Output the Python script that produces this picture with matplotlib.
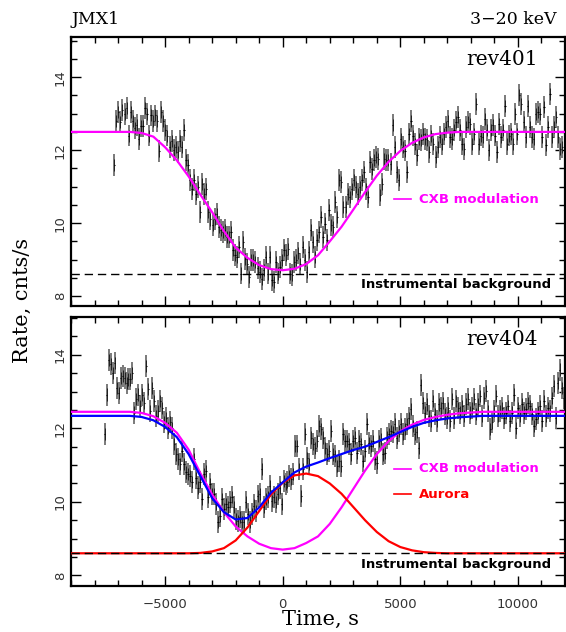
import numpy as np
import matplotlib
matplotlib.use('Agg')
import matplotlib.pyplot as plt
from matplotlib.ticker import MultipleLocator, FixedLocator

# ---------------- data ----------------
# rev401 light curve (time span and rates)
t401_first, t401_last = -7160, 11890
rate401 = [
    11.6, 12.8, 13.05, 12.78, 13.1, 13.0, 13.15, 12.4, 13.05, 12.8, 12.6, 12.7, 12.3, 12.65, 12.65,
    13.15, 13.0, 12.4, 12.95, 12.8, 12.95, 12.8, 11.98, 13.05, 12.8, 12.55, 12.4, 12.08, 12.25, 12.0,
    12.08, 11.95, 12.25, 12.08, 12.55, 11.72, 11.6, 11.17, 10.94, 11.17, 10.8, 11.0, 10.3, 11.08, 10.8,
    10.94, 10.3, 10.1, 9.95, 10.12, 10.26,
    9.9, 9.8, 9.75, 9.8, 9.62, 9.62, 9.75, 9.26, 9.12, 9.08, 9.35, 8.62, 9.49, 9.03, 8.89, 8.52, 8.98,
    8.98, 8.94, 8.76, 8.66, 8.48, 8.71, 9.08, 8.62, 9.08, 8.43, 8.39, 8.94, 8.62, 8.8, 8.98, 9.26, 9.12,
    9.3, 8.62, 8.57, 8.94, 8.98, 9.17, 8.89, 9.35, 8.98, 8.66, 9.21, 9.8, 9.49, 9.08, 9.53, 9.75, 10.17,
    9.62, 9.99, 9.53, 10.35,
    9.94, 9.9, 10.58, 10.17, 11.17, 11.12, 10.44, 10.44, 10.8, 10.71, 10.94, 11.17, 10.99, 10.8, 10.99,
    11.17, 11.4, 10.94, 10.71, 11.67, 11.49, 11.72, 11.81, 11.76, 10.76, 11.08, 11.76, 11.72, 11.72,
    11.63, 12.68, 12.08, 11.4, 11.17, 12.31, 12.08, 11.99, 11.4, 12.45, 12.81, 12.4, 12.18, 11.86, 12.31,
    12.27, 12.45, 12.31, 12.27, 11.95, 12.4, 12.18, 11.81, 12.08, 12.36, 12.18, 12.45, 12.63, 12.81,
    12.36, 12.31, 12.54, 12.77, 12.9, 12.54, 12.17, 12.04, 12.63, 12.77, 12.72, 12.17, 12.45, 13.27,
    12.17, 12.4, 12.36, 12.86, 12.54, 12.0, 12.54, 12.68, 12.4, 11.95, 12.72, 12.36, 12.54, 13.22, 12.17,
    12.4, 12.45, 12.17, 13.0, 12.45, 13.5, 13.27, 12.77, 12.36, 13.22, 12.63, 12.36, 12.31, 13.0, 13.04,
    13.0, 12.36, 13.18, 12.13, 12.63, 13.55, 12.36, 12.63, 12.9, 12.36, 12.04, 12.08,
]

# rev404 light curve
t404_first, t404_last = -7570, 11948
rate404 = [
    11.84, 12.92, 13.87, 13.74, 13.51, 13.78, 13.1, 12.97, 13.37, 13.42, 13.37, 13.24, 13.33, 13.33,
    13.51, 12.43, 12.79, 12.92, 12.61, 12.92, 12.7, 13.69, 13.06, 12.47, 13.1, 12.74, 12.34, 12.47,
    12.74, 12.56, 12.16, 12.29, 12.02, 12.16, 12.02, 11.57, 11.29, 11.16, 11.02, 11.38, 11.02, 10.8,
    10.75, 10.71, 10.53, 11.16, 10.66, 10.39, 10.53, 10.08, 10.75, 10.84, 10.12, 10.48, 10.21, 10.21,
    9.94, 9.45,
    9.62, 10.08, 9.81, 9.94, 9.85, 9.99, 10.12, 9.85, 9.54, 9.49, 9.58, 9.45, 9.45, 9.99, 9.67, 9.45,
    9.67, 9.9, 9.76, 10.17, 10.21, 10.89, 9.85, 10.08, 10.12, 10.44, 10.03, 10.12, 9.99, 10.21, 10.39,
    9.94, 10.57, 10.48, 10.53, 10.71, 10.62, 10.75, 11.52, 11.52, 10.89, 10.17, 10.89, 11.84, 11.2,
    11.02, 11.75, 11.57, 11.47, 11.66, 12.07, 11.98, 11.75, 11.47, 11.29, 11.38, 11.93, 11.29,
    11.25, 10.98, 11.11, 10.98, 11.84, 11.66, 11.66, 11.57, 11.29, 11.66, 11.75, 11.34, 11.66, 11.57,
    11.11, 11.38, 12.11, 11.61, 11.52, 11.66, 11.16, 11.07, 11.66, 11.7, 11.29, 11.34, 11.75, 11.84,
    11.93, 11.89, 12.11, 11.75, 11.93, 12.11, 11.84, 11.98, 12.11, 12.29, 12.52, 12.07, 11.84, 11.89,
    11.47, 13.19, 12.7, 12.43, 12.65, 12.34, 12.2, 12.74, 12.38, 12.2, 12.65, 12.56, 12.7, 12.38, 12.29,
    12.56,
    12.2, 12.79, 12.29, 12.74, 12.56, 12.43, 12.61, 12.34, 12.65, 12.79, 12.43, 12.56, 12.79, 12.38,
    12.65, 12.88, 12.34, 12.83, 13.01, 12.47, 11.98, 12.16, 12.47, 12.88, 12.34, 12.47, 12.56, 12.29,
    12.43, 12.61, 12.2, 12.43, 12.92, 12.02, 12.56, 12.34, 12.65, 12.43, 12.52, 12.7, 12.61, 12.38,
    12.07, 12.25, 12.43, 12.61, 12.2, 12.74, 12.34, 12.56, 12.47, 12.83, 13.15, 12.29, 13.24, 13.6,
    13.1, 12.83,
]
rate_err = 0.3       # cnts/s, 1-sigma
bin_half = 28        # s

# model curves, sampled every 500 s from -9000 to 12000
t_model_first, t_model_last, t_model_step = -9000, 12000, 500
cxb401 = [12.5, 12.5, 12.5, 12.5, 12.5, 12.5, 12.47, 12.37, 12.08, 11.72, 11.28, 10.78, 10.3, 9.78,
          9.33, 9.05, 8.85, 8.74, 8.71, 8.75, 8.88, 9.12, 9.5, 9.9, 10.37, 10.85, 11.3, 11.68, 11.98,
          12.2, 12.35, 12.44, 12.48, 12.5, 12.5, 12.5, 12.5, 12.5, 12.5, 12.5, 12.5, 12.5, 12.5]
cxb404 = [12.45, 12.45, 12.45, 12.45, 12.45, 12.45, 12.42, 12.33, 12.15, 11.88, 11.42, 10.78, 10.2,
          9.72, 9.33, 9.06, 8.86, 8.74, 8.7, 8.74, 8.88, 9.06, 9.4, 9.85, 10.35, 10.85, 11.3, 11.65,
          11.92, 12.1, 12.23, 12.31, 12.37, 12.41, 12.43, 12.45, 12.45, 12.45, 12.45, 12.45, 12.45,
          12.45, 12.45]
aurora404 = [8.6, 8.6, 8.6, 8.6, 8.6, 8.6, 8.6, 8.6, 8.6, 8.6, 8.6, 8.61, 8.65, 8.74, 8.95, 9.3, 9.75,
             10.2, 10.52, 10.72, 10.77, 10.7, 10.5, 10.22, 9.86, 9.5, 9.18, 8.93, 8.77, 8.68, 8.63,
             8.61, 8.6, 8.6, 8.6, 8.6, 8.6, 8.6, 8.6, 8.6, 8.6, 8.6, 8.6]
total404 = [12.34, 12.34, 12.34, 12.34, 12.34, 12.34, 12.31, 12.22, 12.04, 11.76, 11.3, 10.7, 10.1,
            9.72, 9.52, 9.56, 9.85, 10.25, 10.53, 10.8, 10.96, 11.07, 11.19, 11.3, 11.41, 11.5, 11.63,
            11.76, 11.9, 12.04, 12.15, 12.22, 12.27, 12.3, 12.32, 12.34, 12.34, 12.34, 12.34, 12.34,
            12.34, 12.34, 12.34]
instr_bkg = 8.6

x_ticks = [-5000, 0, 5000, 10000]
x_ticklabels = ['\u22125000', '0', '5000', '10000']
y_ticks = [8, 10, 12, 14]

# ---------------- figure ----------------
W, H = 566, 632
fig = plt.figure(figsize=(W / 100, H / 100), dpi=100)
left, right = 71, 565
ax1 = fig.add_axes([left / W, 1 - 306 / H, (right - left) / W, (306 - 37) / H])
ax2 = fig.add_axes([left / W, 1 - 586 / H, (right - left) / W, (586 - 317) / H])

t401 = np.linspace(t401_first, t401_last, len(rate401))
t404 = np.linspace(t404_first, t404_last, len(rate404))
t_model = np.arange(t_model_first, t_model_last + 1, t_model_step)

MAG, RED, BLUE = '#ff00ff', '#ff0000', '#0000ff'
serif = ['DejaVu Serif']
lab_font = dict(family='DejaVu Sans', weight='bold', fontsize=9.5)


def draw_data(ax, t, r):
    ax.errorbar(t, r, yerr=rate_err, fmt='none', ecolor='#707070', elinewidth=1.3, capsize=0, zorder=2)
    ax.errorbar(t, r, yerr=rate_err * 0.55, fmt='none', ecolor='#111111', elinewidth=0.6, capsize=0, zorder=2.5)
    ax.errorbar(t, r, xerr=bin_half, fmt='none', ecolor='black', elinewidth=0.8, capsize=0, zorder=3)


def style(ax, ylim, show_x):
    ax.set_xlim(-9000, 12000)
    ax.set_ylim(*ylim)
    ax.xaxis.set_major_locator(FixedLocator(x_ticks))
    ax.xaxis.set_minor_locator(MultipleLocator(1000))
    ax.yaxis.set_major_locator(FixedLocator(y_ticks))
    ax.yaxis.set_minor_locator(MultipleLocator(0.5))
    ax.tick_params(which='both', direction='in', top=True, right=True, width=1.0, color='black')
    ax.tick_params(which='major', length=7)
    ax.tick_params(which='minor', length=4)
    ax.tick_params(axis='y', pad=3, labelsize=9.5, labelcolor='#333333')
    ax.tick_params(axis='x', pad=9, labelsize=9.5, labelcolor='#333333')
    ax.set_yticks(y_ticks)
    ax.set_yticklabels([str(v) for v in y_ticks])
    for lbl in ax.get_yticklabels():
        lbl.set_rotation(90)
        lbl.set_va('center')
        lbl.set_ha('right')
    if show_x:
        ax.set_xticks(x_ticks)
        ax.set_xticklabels(x_ticklabels)
    else:
        ax.set_xticklabels([])
    for sp in ax.spines.values():
        sp.set_linewidth(1.6)


# ---- top panel: rev401 ----
draw_data(ax1, t401, rate401)
ax1.plot(t_model, cxb401, color=MAG, lw=1.6, zorder=4)
ax1.axhline(instr_bkg, color='black', lw=1.0, ls=(0, (6, 3.5)), zorder=5)
ax1.text(11400, 8.32, 'Instrumental background', ha='right', va='center', **lab_font)
ax1.plot([4750, 5470], [10.65, 10.65], color=MAG, lw=1.2)
ax1.text(5800, 10.65, 'CXB modulation', color=MAG, ha='left', va='center', **lab_font)
ax1.text(0.945, 0.915, 'rev401', transform=ax1.transAxes, ha='right', va='center',
         family=serif, fontsize=14.5)
style(ax1, (7.73, 15.1), False)

# ---- bottom panel: rev404 ----
draw_data(ax2, t404, rate404)
ax2.plot(t_model, cxb404, color=MAG, lw=1.6, zorder=4)
ax2.plot(t_model, aurora404, color=RED, lw=1.6, zorder=4)
ax2.plot(t_model, total404, color=BLUE, lw=1.6, zorder=4)
ax2.axhline(instr_bkg, color='black', lw=1.0, ls=(0, (6, 3.5)), zorder=5)
ax2.text(11400, 8.3, 'Instrumental background', ha='right', va='center', **lab_font)
ax2.plot([4750, 5470], [10.9, 10.9], color=MAG, lw=1.2)
ax2.text(5800, 10.9, 'CXB modulation', color=MAG, ha='left', va='center', **lab_font)
ax2.plot([4750, 5470], [10.2, 10.2], color=RED, lw=1.2)
ax2.text(5800, 10.2, 'Aurora', color=RED, ha='left', va='center', **lab_font)
ax2.text(0.945, 0.915, 'rev404', transform=ax2.transAxes, ha='right', va='center',
         family=serif, fontsize=14.5)
style(ax2, (7.71, 15.03), True)

# ---- figure texts ----
fig.text(left / W, 1 - 19 / H, 'JMX1', ha='left', va='center', family=serif, fontsize=12.5)
fig.text(557 / W, 1 - 19 / H, '3\u221220 keV', ha='right', va='center', family=serif, fontsize=12.5)
fig.text(22 / W, 1 - 300 / H, 'Rate, cnts/s', rotation=90, ha='center', va='center',
         family=serif, fontsize=15)
fig.text(320 / W, 1 - 619 / H, 'Time, s', ha='center', va='center', family=serif, fontsize=15)

fig.savefig('out.png', dpi=100)
